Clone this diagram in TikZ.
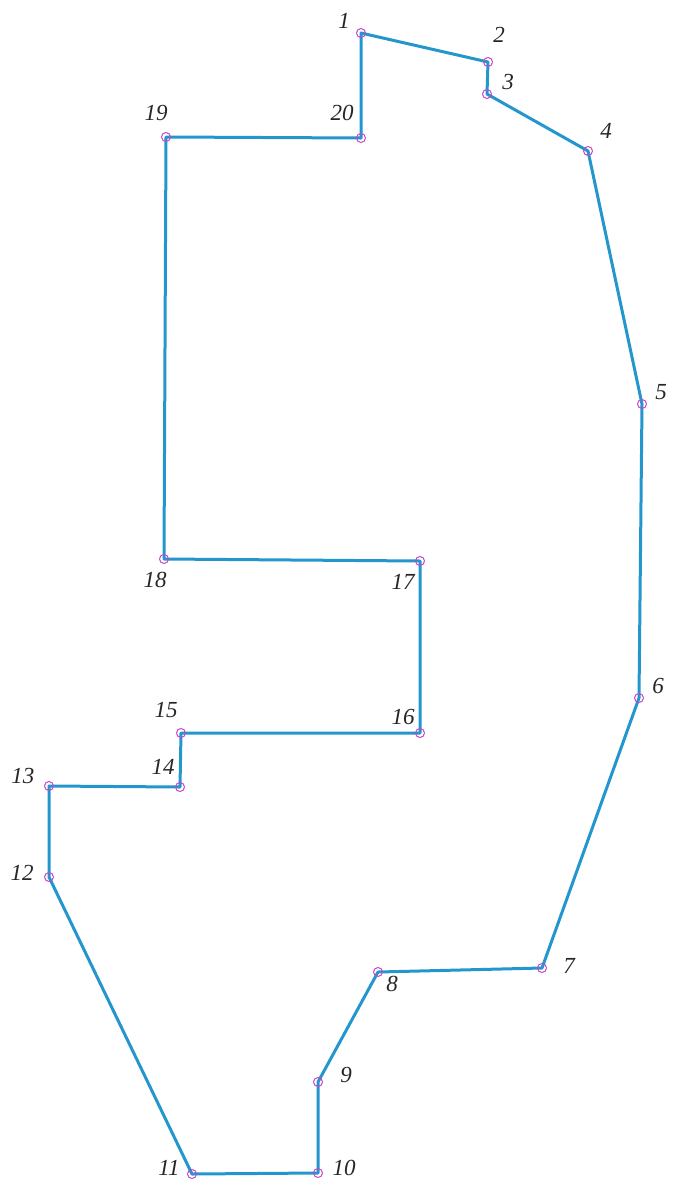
\documentclass[tikz,border=0pt]{standalone}
\usepackage{fontspec}
\setmainfont{Liberation Serif}
\definecolor{edge}{RGB}{35,150,205}
\definecolor{mark}{RGB}{200,70,200}
\begin{document}
\begin{tikzpicture}[x=1pt,y=-1pt,
  pt/.style={circle,draw=mark,line width=1pt,minimum size=9pt,inner sep=0pt},
  lbl/.style={font=\fontsize{23}{23}\selectfont\itshape,text=black!85,inner sep=0pt},
  edgeline/.style={draw=edge,line width=3pt,line join=round}]
\useasboundingbox (0,0) rectangle (673,1181);
\foreach \n/\x/\y in {1/361/33,2/488/62,3/487/94,4/588/151,5/642/404,6/639/698,7/542/968,8/378/972,9/318/1082,10/318/1173,11/192/1174,12/49/877,13/49/786,14/180/787,15/181/733,16/420/733,17/420/561,18/164/559,19/166/137,20/361/138}
  \coordinate (p\n) at (\x,\y);
\draw[edgeline] (p1)--(p2)--(p3)--(p4)--(p5)--(p6)--(p7)--(p8)--(p9)--(p10)--(p11)--(p12)--(p13)--(p14)--(p15)--(p16)--(p17)--(p18)--(p19)--(p20)--cycle;
\foreach \n in {1,...,20} \node[pt] (m\n) at (p\n) {};
\foreach \n/\x/\y in {1/344/21,2/499/35,3/508/82,4/606/131,5/661/392,6/658/686,7/569/966,8/392/984,9/346/1075,10/344/1168,11/169/1168,12/22/873,13/23/776,14/163/767,15/166/710,16/403/717,17/403/582,18/155/580,19/156/113,20/342/113}
  \node[lbl] (l\n) at (\x,\y) {\n};
\end{tikzpicture}
\end{document}
